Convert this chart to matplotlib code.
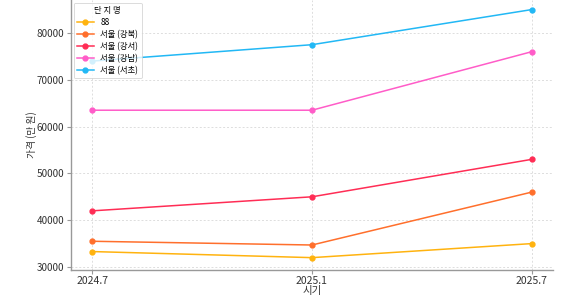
import numpy as np
import matplotlib.pyplot as plt

plt.rcParams['font.family'] = ['Noto Sans CJK KR', 'DejaVu Sans']

periods = ['2024.7', '2025.1', '2025.7']
names = ['88', '서울 (강북)', '서울 (강서)', '서울 (강남)', '서울 (서초)']
s1 = [33300, 32000, 35000]
s2 = [35500, 34700, 46000]
s3 = [42000, 45000, 53000]
s4 = [63500, 63500, 76000]
s5 = [74000, 77500, 85000]
series = [s1, s2, s3, s4, s5]
colors = ['#FFB30F', '#FF6F2C', '#FF2D55', '#FF5CC8', '#22B8F5']

fig = plt.figure(figsize=(5.74, 3.0), dpi=100)
ax = fig.add_axes([0.124, 0.1, 0.839, 0.9])

x = np.arange(len(periods))
for vals, name, c in zip(series, names, colors):
    ax.plot(x, vals, color=c, marker='o', markersize=3.5, linewidth=1.1, label=name)

ax.set_xticks(x)
ax.set_xticklabels(periods, fontsize=7.5, color='#333333')
ax.set_xlim(-0.096, 2.096)
ax.set_ylim(29360, 87050)
ax.set_yticks([30000, 40000, 50000, 60000, 70000, 80000])
ax.tick_params(axis='y', labelsize=7.2, labelcolor='#333333', length=3, color='#999999', pad=2)
ax.tick_params(axis='x', length=3, color='#999999', pad=1)
ax.set_xlabel('시기', fontsize=7.5, color='#333333', labelpad=0)
ax.set_ylabel('가격 (만 원)', fontsize=7, color='#333333', labelpad=0)

ax.grid(True, linestyle=(0, (2, 2)), color='#dddddd', linewidth=0.7)
ax.set_axisbelow(True)
for side in ['top', 'right']:
    ax.spines[side].set_visible(False)
for side in ['left', 'bottom']:
    ax.spines[side].set_color('#999999')
    ax.spines[side].set_linewidth(1.0)

leg = ax.legend(title='단 지 명', loc='upper left', fontsize=6, title_fontsize=6,
                frameon=True, borderaxespad=0.3, handlelength=2.0, labelspacing=0.35)
leg.get_frame().set_edgecolor('#cccccc')
leg.get_frame().set_linewidth(0.6)

fig.savefig('out.png', dpi=100)
